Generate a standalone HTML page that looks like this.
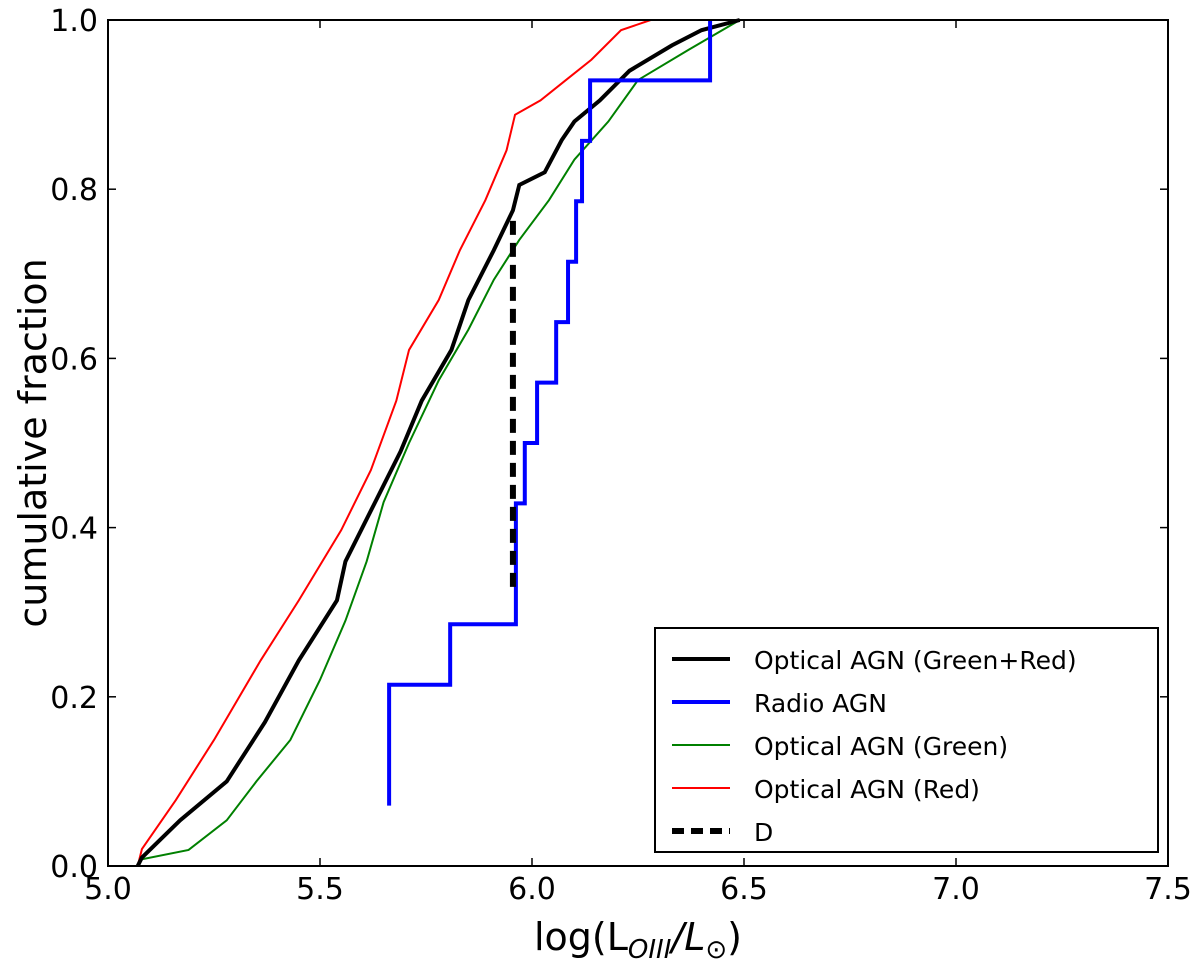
<!DOCTYPE html>
<html><head><meta charset="utf-8"><style>
body{margin:0;background:#fff}
svg{display:block;font-family:"DejaVu Sans","Liberation Sans",sans-serif}
</style></head><body>
<svg id="chart" width="1200" height="962" viewBox="0 0 1200 962" xmlns="http://www.w3.org/2000/svg">
<g id="marks"></g>
<rect x="108" y="20" width="1060" height="846" fill="none" stroke="#000" stroke-width="2"/>
<g id="axes"></g>
<text x="638" y="950" font-size="38" text-anchor="middle">log(L<tspan font-style="italic" font-size="26" dy="8">OIII</tspan><tspan dy="-8" font-style="italic">/L</tspan><tspan font-size="26" dy="8">⊙</tspan><tspan dy="-8">)</tspan></text>
<text transform="translate(46,443) rotate(-90)" font-size="38" text-anchor="middle">cumulative fraction</text>
<g>
<rect x="655" y="628" width="503" height="224" fill="#fff" stroke="#000" stroke-width="2"/>
<line x1="672" y1="659" x2="730" y2="659" stroke="#000" stroke-width="4"/>
<text x="754" y="669" font-size="25">Optical AGN (Green+Red)</text>
<line x1="672" y1="702" x2="730" y2="702" stroke="#0000ff" stroke-width="4"/>
<text x="754" y="712" font-size="25">Radio AGN</text>
<line x1="672" y1="745" x2="730" y2="745" stroke="#008000" stroke-width="2"/>
<text x="754" y="755" font-size="25">Optical AGN (Green)</text>
<line x1="672" y1="788" x2="730" y2="788" stroke="#ff0000" stroke-width="2"/>
<text x="754" y="798" font-size="25">Optical AGN (Red)</text>
<line x1="672" y1="831" x2="730" y2="831" stroke="#000" stroke-width="6" stroke-dasharray="12,7"/>
<text x="754" y="841" font-size="25">D</text>
</g>
</svg>
<script>
const xTicks=[5.0,5.5,6.0,6.5,7.0,7.5];
const xTickLabels=["5.0","5.5","6.0","6.5","7.0","7.5"];
const yTicks=[0,0.2,0.4,0.6,0.8,1.0];
const yTickLabels=["0.0","0.2","0.4","0.6","0.8","1.0"];
const redX=[5.07,5.08,5.16,5.25,5.36,5.45,5.55,5.62,5.68,5.71,5.78,5.83,5.89,5.94,5.96,6.02,6.08,6.14,6.21,6.28];
const redY=[0,0.02,0.078,0.149,0.243,0.314,0.397,0.468,0.55,0.61,0.669,0.728,0.787,0.846,0.888,0.905,0.929,0.953,0.988,1.0];
const blackX=[5.07,5.08,5.17,5.28,5.37,5.45,5.54,5.56,5.63,5.69,5.74,5.81,5.85,5.91,5.955,5.97,6.03,6.07,6.10,6.16,6.23,6.33,6.40,6.49];
const blackY=[0,0.01,0.054,0.10,0.17,0.243,0.314,0.36,0.43,0.49,0.55,0.61,0.669,0.728,0.775,0.805,0.82,0.858,0.88,0.905,0.94,0.97,0.988,1.0];
const greenX=[5.07,5.08,5.19,5.28,5.35,5.43,5.50,5.56,5.61,5.65,5.71,5.78,5.85,5.91,5.97,6.04,6.10,6.18,6.25,6.37,6.49];
const greenY=[0,0.008,0.019,0.054,0.10,0.149,0.22,0.29,0.36,0.43,0.50,0.574,0.634,0.693,0.74,0.787,0.835,0.88,0.929,0.965,1.0];
const blueX=[5.663,5.663,5.807,5.962,5.962,5.983,6.012,6.057,6.085,6.104,6.118,6.137,6.42];
const blueY=[0.0714,0.2143,0.2857,0.3571,0.4286,0.5,0.5714,0.6429,0.7143,0.7857,0.8571,0.9286,1.0];
const dX=[5.955];
const dLow=[0.33];
const dHigh=[0.77];

const X0=108,X1=1168,Y0=866,Y1=20;
const sx=v=>X0+(v-5.0)/(7.5-5.0)*(X1-X0);
const sy=v=>Y0-(v-0)/(1-0)*(Y0-Y1);
const NS="http://www.w3.org/2000/svg";
const marks=document.getElementById('marks'),axes=document.getElementById('axes');
function mk(tag,attrs,parent){const e=document.createElementNS(NS,tag);for(const k in attrs)e.setAttribute(k,attrs[k]);parent.appendChild(e);return e;}
function linePath(xs,ys){let d="M"+sx(xs[0])+","+sy(ys[0]);for(let i=1;i<xs.length;i++){d+=" L"+sx(xs[i])+","+sy(ys[i]);}return d;}
function stepPath(xs,ys){let d="M"+sx(xs[0])+","+sy(ys[0]);for(let i=1;i<xs.length;i++){d+=" H"+sx(xs[i])+" V"+sy(ys[i]);}return d;}
let p;
p=mk('path',{d:linePath(redX,redY),fill:'none',stroke:'#ff0000','stroke-width':2},marks);


p=mk('path',{d:linePath(greenX,greenY),fill:'none',stroke:'#008000','stroke-width':2},marks);


p=mk('path',{d:linePath(blackX,blackY),fill:'none',stroke:'#000','stroke-width':4},marks);


p=mk('path',{d:stepPath(blueX,blueY),fill:'none',stroke:'#0000ff','stroke-width':4},marks);


p=mk('line',{x1:sx(dX[0]),x2:sx(dX[0]),y1:sy(dLow[0]),y2:sy(dHigh[0]),stroke:'#000','stroke-width':6,'stroke-dasharray':'14,8'},marks);


xTicks.forEach((v,i)=>{const x=sx(v);
 mk('line',{x1:x,x2:x,y1:Y0,y2:Y0-8,stroke:'#000','stroke-width':1.5},axes);
 mk('line',{x1:x,x2:x,y1:Y1,y2:Y1+8,stroke:'#000','stroke-width':1.5},axes);
 const t=mk('text',{x:x,y:899,'font-size':30,'text-anchor':'middle'},axes);t.textContent=xTickLabels[i];
 
 
});
yTicks.forEach((v,i)=>{const y=sy(v);
 mk('line',{x1:X0,x2:X0+8,y1:y,y2:y,stroke:'#000','stroke-width':1.5},axes);
 mk('line',{x1:X1,x2:X1-8,y1:y,y2:y,stroke:'#000','stroke-width':1.5},axes);
 const t=mk('text',{x:98,y:y+11,'font-size':30,'text-anchor':'end'},axes);t.textContent=yTickLabels[i];
 
 
});
</script>
</body></html>
